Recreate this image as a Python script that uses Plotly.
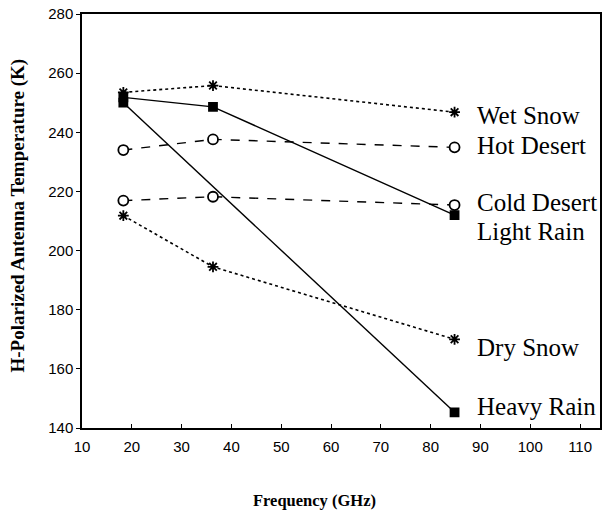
import plotly.graph_objects as go

freq = [18.3, 36.3, 84.8]
wet_snow = [253.5, 255.8, 246.8]
hot_desert = [234.0, 237.6, 234.9]
cold_desert = [216.9, 218.2, 215.4]
light_rain = [251.8, 248.6, 212.0]
heavy_rain = [250.0, None, 145.3]
dry_snow = [211.8, 194.5, 170.0]

labels = ["Wet Snow", "Hot Desert", "Cold Desert", "Light Rain", "Dry Snow", "Heavy Rain"]
label_y = [245.8, 235.7, 216.1, 206.3, 167.1, 147.4]
label_x = 89

x_ticks = [10, 20, 30, 40, 50, 60, 70, 80, 90, 100, 110]
y_ticks = [140, 160, 180, 200, 220, 240, 260, 280]

fig = go.Figure()

def add(y, dash, symbol, size, fill, lw=1.4):
    fig.add_trace(go.Scatter(
        x=freq, y=y, mode="lines+markers", connectgaps=True,
        line=dict(color="black", width=lw, dash=dash),
        marker=dict(symbol=symbol, size=size, color=fill,
                    line=dict(color="black", width=1.8)),
        showlegend=False, hoverinfo="skip"))

add(wet_snow, "dot", "asterisk-open", 9, "black", 1.6)
add(hot_desert, "dash", "circle", 10, "white")
add(cold_desert, "dash", "circle", 10, "white")
add(light_rain, "solid", "square", 8, "black")
add(heavy_rain, "solid", "square", 8, "black")
add(dry_snow, "dot", "asterisk-open", 9, "black", 1.6)

for t, yy in zip(labels, label_y):
    fig.add_annotation(x=label_x, y=yy, text=t, showarrow=False,
                       xanchor="left", yanchor="middle",
                       font=dict(family="Liberation Serif", size=25, color="black"))

fig.add_annotation(xref="paper", yref="paper", x=-0.123, y=0.514,
                   text="<b>H-Polarized Antenna Temperature (K)</b>", textangle=-90,
                   showarrow=False, xanchor="center", yanchor="middle",
                   font=dict(family="Liberation Serif", size=19, color="black"))
fig.add_annotation(xref="paper", yref="paper", x=0.448, y=-0.174,
                   text="<b>Frequency (GHz)</b>",
                   showarrow=False, xanchor="center", yanchor="middle",
                   font=dict(family="Liberation Serif", size=16.5, color="black"))

fig.update_xaxes(range=[10, 114], tickvals=x_ticks, ticktext=[str(v) for v in x_ticks],
                 showgrid=False, zeroline=False, showline=True, mirror=True,
                 linecolor="black", linewidth=1.5, ticks="inside", ticklen=4,
                 tickcolor="black", ticklabelstandoff=4,
                 tickfont=dict(family="Liberation Sans", size=15, color="black"))
fig.update_yaxes(range=[140, 280], tickvals=y_ticks,
                 showgrid=False, zeroline=False, showline=True, mirror=True,
                 linecolor="black", linewidth=1.5, ticks="outside", ticklen=4,
                 tickcolor="black",
                 tickfont=dict(family="Liberation Sans", size=15, color="black"))

fig.update_layout(width=603, height=512, margin=dict(l=82, r=1, t=14, b=84),
                  plot_bgcolor="white", paper_bgcolor="white")

fig.write_html("out.html", config={"displayModeBar": False},
               post_script="document.body.style.margin='0';document.body.style.overflow='hidden';")
